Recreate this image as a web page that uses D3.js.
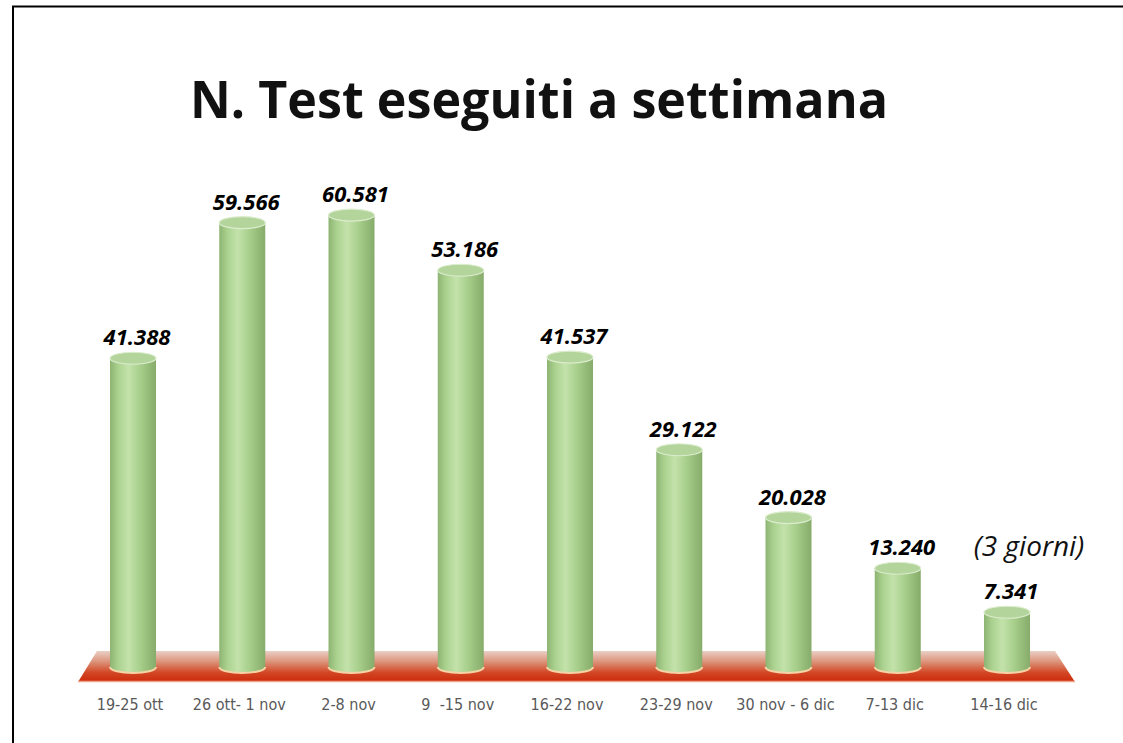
<!DOCTYPE html>
<html>
<head>
<meta charset="utf-8">
<script src="https://cdn.jsdelivr.net/npm/d3@7"></script>
<style>
  body { margin: 0; background: #fff; overflow: hidden; }
  svg { display: block; }
</style>
</head>
<body>
<svg id="chart"></svg>
<script>
/*
  Weekly test count, cylinders on a red floor
*/

var weeks = ["19-25 ott", "26 ott- 1 nov", "2-8 nov", "9  -15 nov", "16-22 nov",
             "23-29 nov", "30 nov - 6 dic", "7-13 dic", "14-16 dic"];
var tests = [41388, 59566, 60581, 53186, 41537, 29122, 20028, 13240, 7341];
var valueLabels = ["41.388", "59.566", "60.581", "53.186", "41.537",
                   "29.122", "20.028", "13.240", "7.341"];
var titleText = "N. Test eseguiti a settimana";
var noteText = "(3 giorni)";

var W = 1123, H = 743;
var barW = 46, ry = 6;

var svg = d3.select("#chart").attr("width", W).attr("height", H);

var x = d3.scalePoint().domain(weeks).range([133, 1007]);
var y = d3.scaleLinear().domain([0, 70000]).range([667, 667 - 70000 * 0.00746]);

var defs = svg.append("defs");

//cylinder body shading
var g1 = defs.append("linearGradient").attr("id", "cyl").attr("x1", "0").attr("x2", "1").attr("y1", "0").attr("y2", "0");
[["0%", "#8db472"], ["18%", "#abd28f"], ["40%", "#c3e2ab"], ["65%", "#a8cf8c"], ["100%", "#86ab6a"]].forEach(function(s){
  g1.append("stop").attr("offset", s[0]).attr("stop-color", s[1]);
});

//floor gradient
var g2 = defs.append("linearGradient").attr("id", "floor").attr("x1", "0").attr("x2", "0").attr("y1", "0").attr("y2", "1");
[["0%", "#ead0c6"], ["35%", "#dc9279"], ["70%", "#d24624"], ["100%", "#cc2a0a"]].forEach(function(s){
  g2.append("stop").attr("offset", s[0]).attr("stop-color", s[1]);
});

//border of the slide
svg.append("line").attr("x1", 13).attr("x2", 13).attr("y1", 6).attr("y2", H)
  .style("stroke", "#000").style("stroke-width", 2);
svg.append("line").attr("x1", 12).attr("x2", W).attr("y1", 6.5).attr("y2", 6.5)
  .style("stroke", "#000").style("stroke-width", 2);

//title
svg.append("text")
  .attr("x", 539).attr("y", 118)
  .attr("text-anchor", "middle")
  .attr("textLength", 698).attr("lengthAdjust", "spacingAndGlyphs")
  .style("font-family", "'Open Sans', 'DejaVu Sans', sans-serif")
  .style("font-weight", "bold")
  .style("font-size", "52px")
  .style("fill", "#111")
  .text(titleText);

//floor
var x0 = x.range()[0], x1 = x.range()[1];
var floorPts = [[x0 - 36, 651], [x1 + 48, 651], [x1 + 68, 682], [x0 - 55, 682]];
svg.append("polygon")
  .attr("points", floorPts.map(function(p){ return p.join(","); }).join(" "))
  .style("fill", "url(#floor)");
svg.append("line")
  .attr("x1", x0 - 55).attr("x2", x1 + 68).attr("y1", 681.5).attr("y2", 681.5)
  .style("stroke", "#f0a48a").style("stroke-width", 1.5);

//cylinders
var bars = svg.selectAll(".bar").data(tests).enter().append("g").attr("class", "bar");

bars.append("path")
  .attr("d", function(d, i){
    var cx = x(weeks[i]), l = cx - barW / 2, r = cx + barW / 2, t = y(d), b = y(0);
    return "M" + l + "," + t + " L" + l + "," + b +
      " A" + (barW / 2) + "," + ry + " 0 0 0 " + r + "," + b +
      " L" + r + "," + t + " Z";
  })
  .style("fill", "url(#cyl)");

//light rim at the bottom
bars.append("path")
  .attr("d", function(d, i){
    var cx = x(weeks[i]), l = cx - barW / 2, r = cx + barW / 2, b = y(0);
    return "M" + l + "," + b + " A" + (barW / 2) + "," + ry + " 0 0 0 " + r + "," + b;
  })
  .style("fill", "none").style("stroke", "#f6d3a6").style("stroke-width", 2);

bars.append("ellipse")
  .attr("cx", function(d, i){ return x(weeks[i]); })
  .attr("cy", function(d){ return y(d); })
  .attr("rx", barW / 2).attr("ry", ry)
  .style("fill", "#b3d49b")
  .style("stroke", "#dcecce").style("stroke-width", 1.2);

//value labels
svg.selectAll(".val").data(tests).enter().append("text")
  .attr("class", "val")
  .attr("x", function(d, i){ return x(weeks[i]) + 4; })
  .attr("y", function(d){ return y(d) - 13; })
  .attr("text-anchor", "middle")
  .style("font-family", "'Open Sans', 'DejaVu Sans', sans-serif")
  .style("font-weight", "bold")
  .style("font-style", "italic")
  .style("font-size", "22px")
  .style("fill", "#000")
  .text(function(d, i){ return valueLabels[i]; });

//category labels
svg.selectAll(".cat").data(weeks).enter().append("text")
  .attr("class", "cat")
  .attr("x", function(d){ return x(d) - 3; })
  .attr("y", 710)
  .attr("text-anchor", "middle")
  .style("font-family", "'Liberation Sans Narrow', 'DejaVu Sans Condensed', sans-serif")
  .style("font-size", "16px")
  .style("fill", "#595959")
  .style("white-space", "pre")
  .text(function(d){ return d; });

//note
svg.append("text")
  .attr("x", 1029).attr("y", 556)
  .attr("text-anchor", "middle")
  .style("font-family", "'Open Sans', 'DejaVu Sans', sans-serif")
  .style("font-style", "italic")
  .style("font-size", "28px")
  .style("fill", "#111")
  .text(noteText);
</script>
</body>
</html>
